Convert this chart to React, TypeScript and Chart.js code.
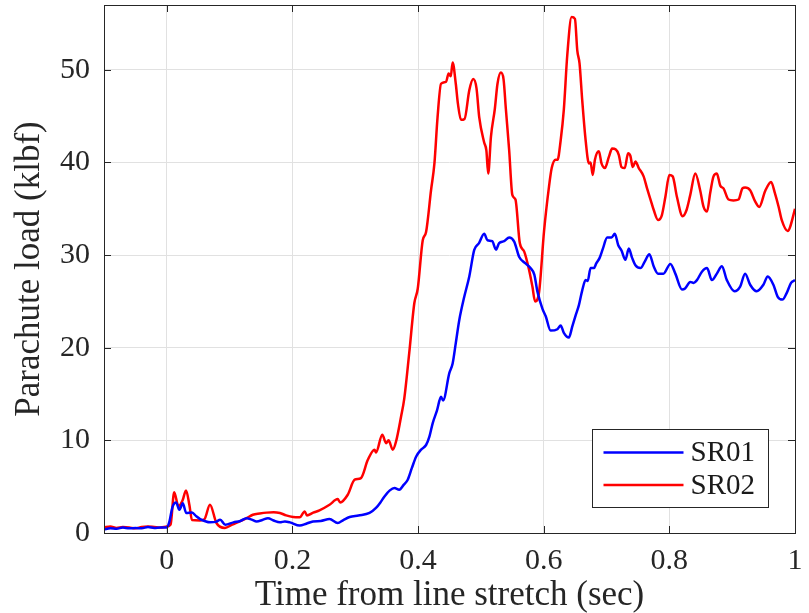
import { useEffect, useRef } from "react";
import { Chart, registerables } from "chart.js";

Chart.register(...registerables);

// ---- Data ----
const xTickValues = [0, 0.2, 0.4, 0.6, 0.8, 1];
const yTickValues = [0, 10, 20, 30, 40, 50];
const seriesLabels = ["SR01", "SR02"];

const sr01Time = [
  -0.1, -0.09, -0.08, -0.07, -0.06, -0.05, -0.04, -0.03, -0.02, -0.01, 0.0, 0.004, 0.009, 0.0148, 0.02,
  0.0254, 0.031, 0.04, 0.047, 0.053, 0.06, 0.069, 0.078, 0.085, 0.093, 0.106, 0.117, 0.127, 0.135,
  0.143, 0.152, 0.161, 0.17, 0.18, 0.188, 0.196, 0.2116, 0.222, 0.2327, 0.245, 0.259, 0.272, 0.281,
  0.291, 0.305, 0.3227, 0.333, 0.34, 0.3465, 0.355, 0.3624, 0.37, 0.377, 0.3835, 0.39, 0.397, 0.4048,
  0.4127, 0.418, 0.4233, 0.43, 0.4365, 0.4398, 0.4497, 0.455, 0.46, 0.4656, 0.4735, 0.4815, 0.4894,
  0.497, 0.5052, 0.5105, 0.518, 0.524, 0.529, 0.537, 0.545, 0.553, 0.561, 0.571, 0.579, 0.585, 0.59,
  0.598, 0.6032, 0.611, 0.6217, 0.627, 0.632, 0.64, 0.6455, 0.6508, 0.656, 0.6613, 0.6667, 0.67,
  0.6746, 0.6799, 0.6836, 0.689, 0.6942, 0.701, 0.708, 0.7132, 0.7185, 0.7238, 0.73, 0.7354, 0.7407,
  0.746, 0.754, 0.7608, 0.7682, 0.775, 0.782, 0.7905, 0.8016, 0.8095, 0.82, 0.825, 0.8333, 0.8386,
  0.8439, 0.8518, 0.86, 0.8677, 0.8756, 0.8836, 0.8915, 0.9037, 0.9127, 0.9206, 0.9286, 0.939, 0.9497,
  0.9566, 0.9656, 0.9725, 0.98, 0.9867, 0.9937, 1.0,
];
const sr01Load = [
  0.4, 0.5, 0.45, 0.6, 0.5, 0.55, 0.5, 0.65, 0.55, 0.6, 0.6, 1.2, 2.8, 3.3, 2.5,
  3.2, 2.15, 2.2, 1.8, 1.5, 1.3, 1.15, 1.2, 1.43, 0.9, 1.15, 1.3, 1.6, 1.45,
  1.25, 1.4, 1.6, 1.35, 1.15, 1.25, 1.15, 0.8, 1.0, 1.25, 1.3, 1.5, 1.08, 1.4,
  1.73, 1.9, 2.16, 2.7, 3.3, 3.95, 4.6, 4.85, 4.68, 5.2, 5.75, 7.0, 8.26, 9.0,
  9.5, 10.4, 11.87, 13.2, 14.7, 14.3, 17.26, 18.3, 20.5, 23.0, 25.5, 27.7, 30.56,
  31.3, 32.3, 31.6, 31.5, 30.6, 31.3, 31.5, 31.9, 31.46, 29.8, 29.1, 28.6, 27.9, 26.06,
  24.2, 23.4, 21.85, 22.0, 22.4, 21.6, 21.1, 22.3, 23.5, 24.6, 26.2, 27.3, 27.2,
  28.6, 28.6, 29.1, 29.7, 30.7, 31.9, 31.9, 32.3, 31.1, 30.5, 29.5, 30.7, 29.7,
  28.9, 28.6, 29.3, 30.1, 28.8, 28.0, 28.0, 29.05, 28.0, 26.3, 26.4, 27.1, 27.0,
  27.3, 28.2, 28.6, 27.3, 28.0, 28.8, 27.3, 26.1, 26.6, 28.0, 26.8, 26.1, 26.8,
  27.7, 26.8, 25.5, 25.2, 25.9, 27.0, 27.3,
];

const sr02Time = [
  -0.1, -0.09, -0.08, -0.07, -0.06, -0.05, -0.04, -0.03, -0.02, -0.01, 0.0, 0.006, 0.0117, 0.0185,
  0.025, 0.0306, 0.036, 0.04, 0.053, 0.06, 0.0687, 0.079, 0.0925, 0.104, 0.116, 0.127, 0.137, 0.148,
  0.159, 0.17, 0.18, 0.19, 0.201, 0.2116, 0.2195, 0.223, 0.233, 0.243, 0.259, 0.272, 0.276, 0.288,
  0.299, 0.309, 0.32, 0.3306, 0.333, 0.343, 0.349, 0.353, 0.3597, 0.365, 0.373, 0.378, 0.386, 0.394,
  0.3995, 0.4074, 0.4127, 0.4206, 0.426, 0.431, 0.4365, 0.4444, 0.4486, 0.452, 0.455, 0.46, 0.4635,
  0.4683, 0.474, 0.4815, 0.4878, 0.493, 0.4973, 0.505, 0.5087, 0.5116, 0.516, 0.5222, 0.5264, 0.5317,
  0.536, 0.5397, 0.545, 0.55, 0.555, 0.5619, 0.5688, 0.5767, 0.582, 0.5862, 0.5926, 0.6005, 0.6084,
  0.6127, 0.619, 0.622, 0.627, 0.632, 0.6375, 0.6444, 0.6497, 0.6534, 0.657, 0.6613, 0.6667, 0.672,
  0.6746, 0.678, 0.6815, 0.6878, 0.692, 0.6974, 0.7037, 0.709, 0.7148, 0.7196, 0.7238, 0.729, 0.7343,
  0.738, 0.7417, 0.746, 0.7513, 0.759, 0.7645, 0.77, 0.775, 0.782, 0.788, 0.7937, 0.8, 0.8053, 0.812,
  0.8211, 0.8275, 0.8333, 0.8413, 0.849, 0.8545, 0.86, 0.865, 0.8703, 0.8756, 0.881, 0.8862, 0.8941,
  0.902, 0.9101, 0.9163, 0.9206, 0.9286, 0.9365, 0.943, 0.9524, 0.9619, 0.968, 0.974, 0.9788, 0.9884,
  0.992, 1.0,
];
const sr02Load = [
  0.6, 0.7, 0.55, 0.65, 0.6, 0.5, 0.65, 0.7, 0.65, 0.6, 0.7, 0.9, 4.4, 2.9,
  3.5, 4.6, 3.0, 1.4, 1.36, 1.5, 3.05, 1.08, 0.54, 0.9, 1.25, 1.6, 1.97, 2.1,
  2.2, 2.25, 2.16, 1.9, 1.73, 1.7, 2.33, 1.9, 2.2, 2.44, 3.05, 3.66, 3.3, 4.13,
  5.75, 5.93, 7.9, 9.0, 8.7, 10.6, 9.7, 10.0, 9.0, 9.9, 12.6, 14.5, 19.5, 24.8,
  26.4, 31.6, 32.5, 37.0, 39.9, 44.9, 48.5, 48.7, 49.6, 49.3, 50.8, 48.5, 46.3,
  44.6, 44.7, 47.8, 49.0, 48.0, 44.9, 42.2, 41.3, 38.8, 42.8, 45.8, 48.5, 49.7,
  49.0, 45.8, 41.3, 36.5, 36.0, 31.3, 30.4, 28.4, 26.6, 25.0, 26.0, 32.6, 37.4,
  39.4, 40.3, 40.3, 42.4, 45.7, 51.6, 55.7, 55.5, 52.1, 50.7, 46.7, 42.4, 39.9,
  40.0, 38.65, 40.3, 41.2, 39.9, 39.4, 40.6, 41.5, 41.4, 40.8, 39.5, 39.4, 41.0,
  40.7, 39.5, 40.1, 39.4, 38.5, 37.2, 36.0, 34.9, 33.8, 34.3, 36.3, 38.65, 38.5, 36.3,
  34.2, 34.9, 36.5, 38.8, 37.0, 35.2, 34.7, 36.7, 38.5, 38.8, 37.5, 37.2, 36.0,
  35.9, 36.0, 37.2, 37.3, 37.0, 35.8, 35.2, 36.9, 37.9, 36.7, 35.2, 33.8, 32.6,
  33.0, 35.0,
];

const seriesColors = ["#0000ff", "#ff0000"];
const FONT = "'Liberation Serif', 'Times New Roman', serif";
const AXIS_COLOR = "#262626";

function toPoints(xs: number[], ys: number[]) {
  return xs.map((x, i) => ({ x, y: ys[i] }));
}

const boxPlugin = {
  id: "matlabBox",
  afterDatasetsDraw(chart: any) {
    const { ctx, chartArea, scales } = chart;
    const { left, right, top, bottom } = chartArea;
    ctx.save();
    ctx.strokeStyle = AXIS_COLOR;
    ctx.lineWidth = 1;
    ctx.strokeRect(Math.round(left) + 0.5, Math.round(top) + 0.5, Math.round(right - left), Math.round(bottom - top));
    const tl = 7;
    ctx.beginPath();
    for (const v of xTickValues) {
      const px = Math.round(scales.x.getPixelForValue(v)) + 0.5;
      ctx.moveTo(px, bottom);
      ctx.lineTo(px, bottom - tl);
      ctx.moveTo(px, top);
      ctx.lineTo(px, top + tl);
    }
    for (const v of yTickValues) {
      const py = Math.round(scales.y.getPixelForValue(v)) + 0.5;
      ctx.moveTo(left, py);
      ctx.lineTo(left + tl, py);
      ctx.moveTo(right, py);
      ctx.lineTo(right - tl, py);
    }
    ctx.stroke();

    // legend
    const w = 176;
    const h = 78;
    const x0 = Math.round(right - 27 - w) + 0.5;
    const y0 = Math.round(bottom - 26 - h) + 0.5;
    ctx.fillStyle = "#ffffff";
    ctx.fillRect(x0, y0, w, h);
    ctx.strokeStyle = AXIS_COLOR;
    ctx.strokeRect(x0, y0, w, h);
    chart.data.datasets.forEach((ds: any, i: number) => {
      const yy = y0 + 23 + i * 32.5;
      ctx.strokeStyle = ds.borderColor;
      ctx.lineWidth = 2.5;
      ctx.beginPath();
      ctx.moveTo(x0 + 11, yy);
      ctx.lineTo(x0 + 91, yy);
      ctx.stroke();
      ctx.fillStyle = "#1a1a1a";
      ctx.font = `29px ${FONT}`;
      ctx.textAlign = "left";
      ctx.textBaseline = "middle";
      ctx.fillText(ds.label, x0 + 98, yy + 1);
    });
    ctx.restore();
  },
};

export default function App() {
  const canvasRef = useRef<HTMLCanvasElement | null>(null);

  useEffect(() => {
    document.body.style.margin = "0";
    document.body.style.overflow = "hidden";
    const canvas = canvasRef.current;
    if (!canvas) return;
    const chart = new Chart(canvas, {
      type: "line",
      data: {
        datasets: [
          {
            label: seriesLabels[0],
            data: toPoints(sr01Time, sr01Load),
            borderColor: seriesColors[0],
            backgroundColor: seriesColors[0],
            borderWidth: 2.5,
            pointRadius: 0,
            cubicInterpolationMode: "monotone",
          },
          {
            label: seriesLabels[1],
            data: toPoints(sr02Time, sr02Load),
            borderColor: seriesColors[1],
            backgroundColor: seriesColors[1],
            borderWidth: 2.5,
            pointRadius: 0,
            cubicInterpolationMode: "monotone",
          },
        ],
      },
      options: {
        animation: false,
        responsive: false,
        maintainAspectRatio: false,
        layout: { padding: { top: 5, right: 14, left: 0, bottom: 0 } },
        plugins: {
          legend: { display: false },
          tooltip: { enabled: false },
        },
        scales: {
          x: {
            type: "linear",
            min: -0.1,
            max: 1,
            afterBuildTicks: (scale: any) => {
              scale.ticks = xTickValues.map((v) => ({ value: v }));
            },
            afterFit: (scale: any) => {
              scale.height = 80;
              scale.paddingLeft = 0;
              scale.paddingRight = 0;
            },
            grid: { color: "#e1e1e1", lineWidth: 1, drawTicks: false },
            border: { display: false },
            ticks: {
              maxRotation: 0,
              autoSkip: false,
              padding: 10,
              color: AXIS_COLOR,
              font: { family: FONT, size: 30 },
              callback: (v: any) => String(Math.round(Number(v) * 10) / 10),
            },
            title: {
              display: true,
              text: "Time from line stretch (sec)",
              color: AXIS_COLOR,
              font: { family: FONT, size: 35, lineHeight: 1.0 },
              padding: { top: 0, bottom: 0 },
            },
          },
          y: {
            type: "linear",
            min: 0,
            max: 57,
            afterBuildTicks: (scale: any) => {
              scale.ticks = yTickValues.map((v) => ({ value: v }));
            },
            afterFit: (scale: any) => {
              scale.width = 104;
              scale.paddingTop = 0;
              scale.paddingBottom = 0;
            },
            grid: { color: "#e1e1e1", lineWidth: 1, drawTicks: false },
            border: { display: false },
            ticks: {
              autoSkip: false,
              padding: 14,
              color: AXIS_COLOR,
              font: { family: FONT, size: 30 },
            },
            title: {
              display: true,
              text: "Parachute load (klbf)",
              color: AXIS_COLOR,
              font: { family: FONT, size: 35, lineHeight: 1.0 },
              padding: { top: 12, bottom: 0 },
            },
          },
        },
      },
      plugins: [boxPlugin],
    } as any);
    return () => chart.destroy();
  }, []);

  return (
    <div style={{ width: 809, height: 613, position: "relative" }}>
      <canvas ref={canvasRef} width={809} height={613} style={{ display: "block" }} />
    </div>
  );
}
